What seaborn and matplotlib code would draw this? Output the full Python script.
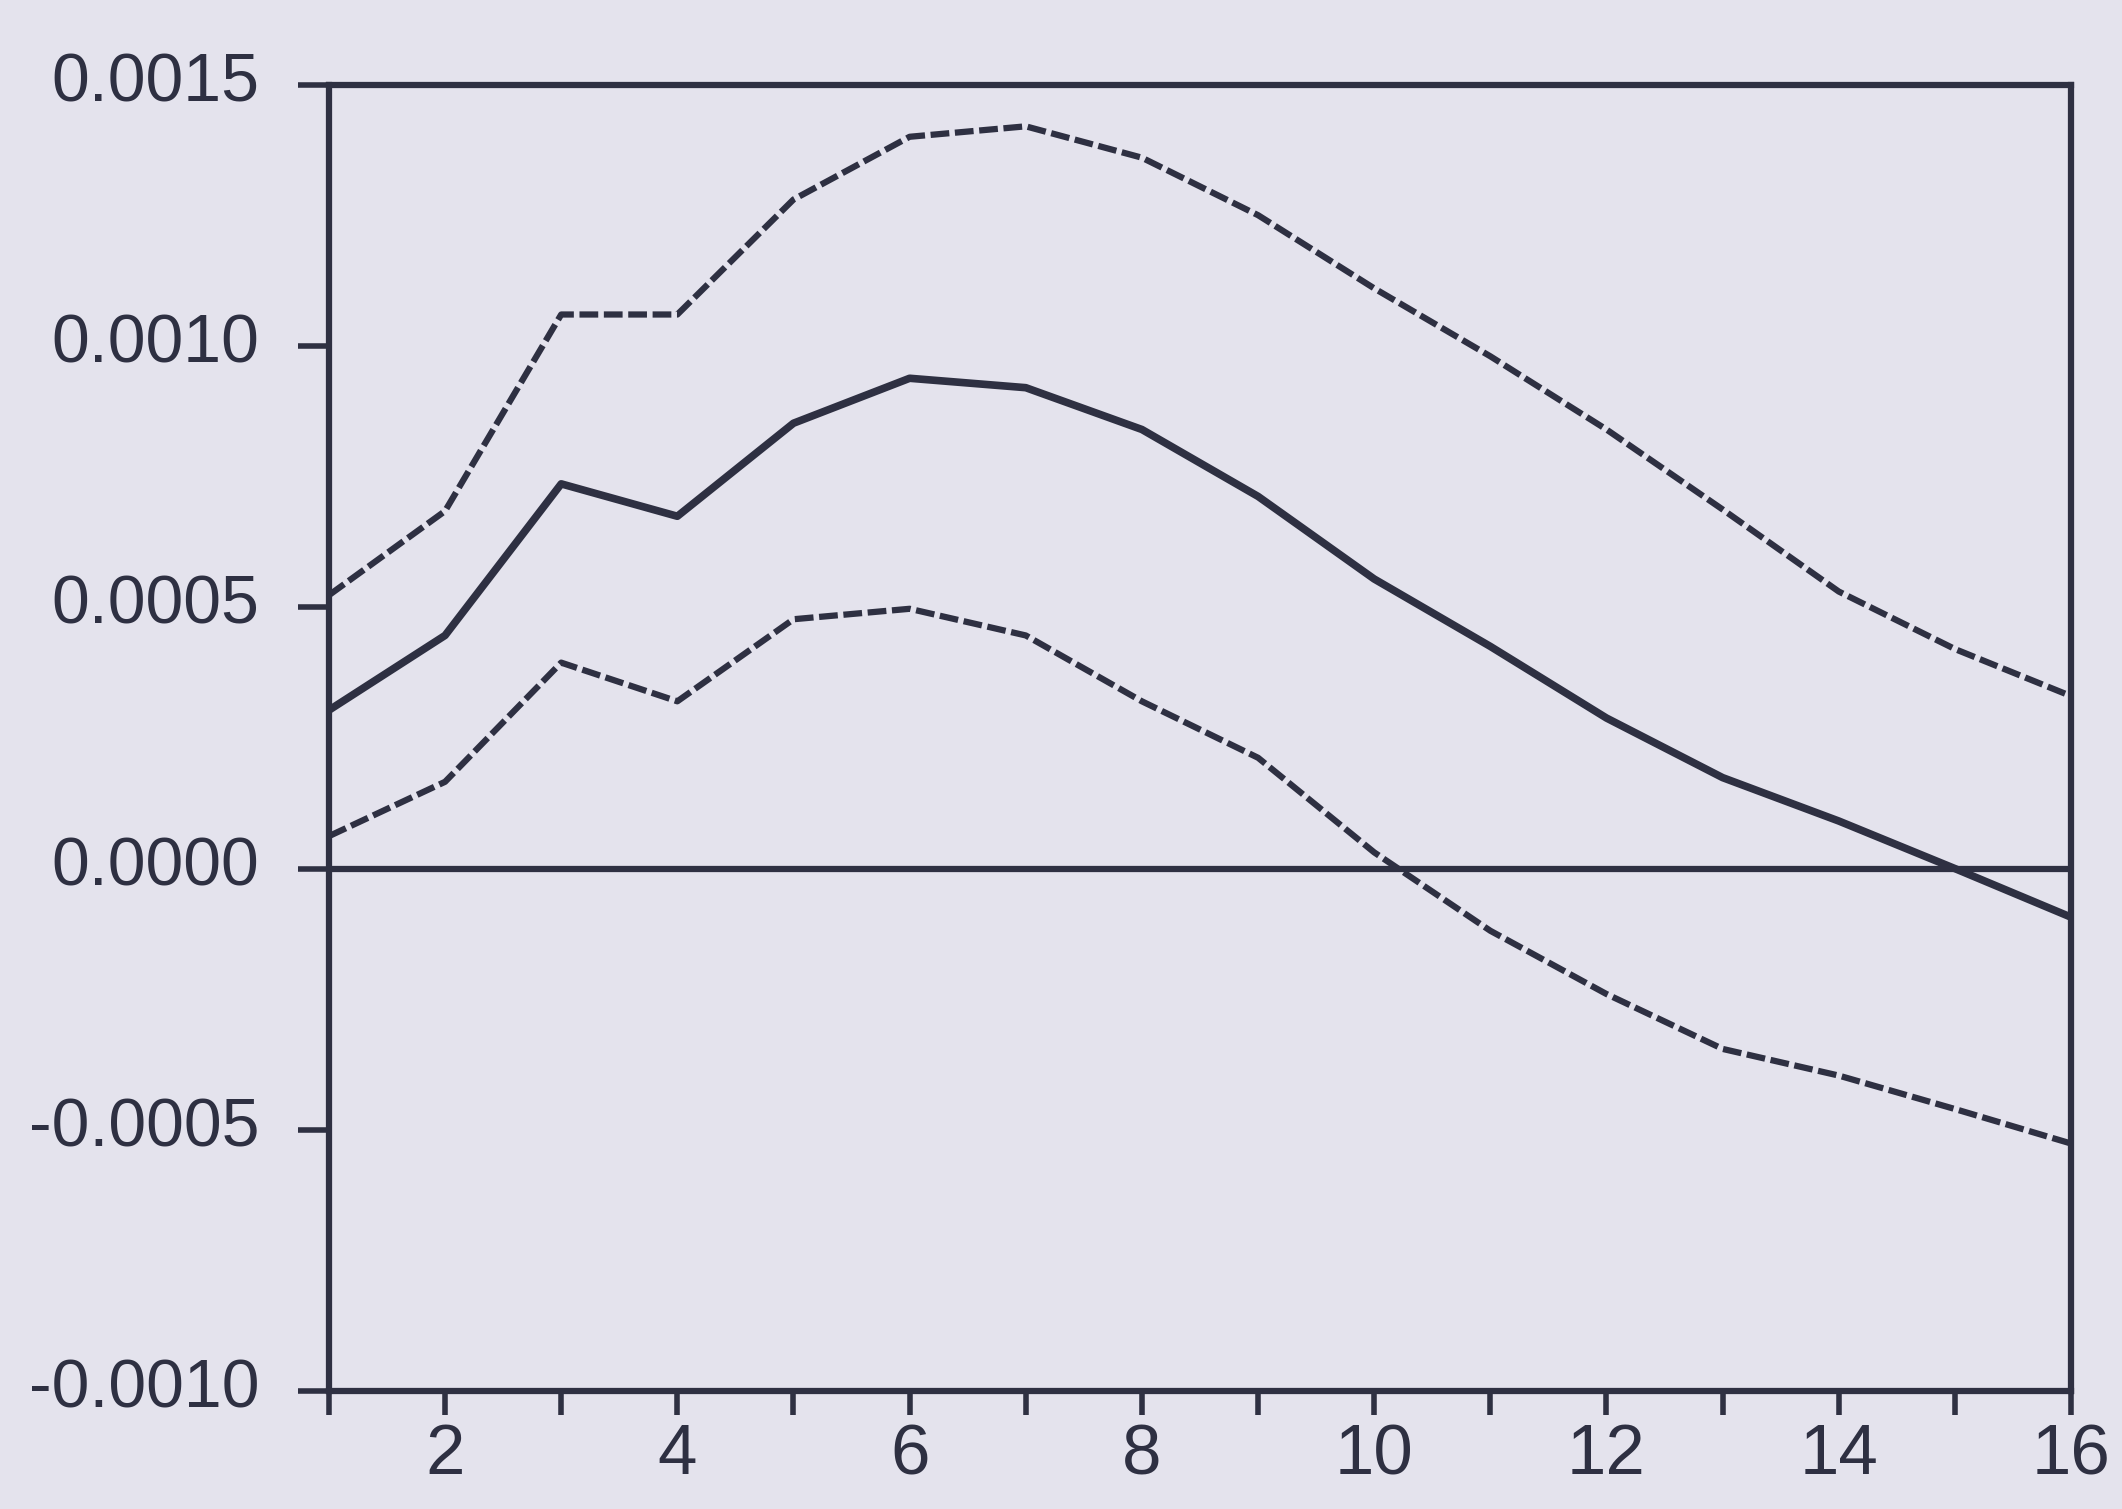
import numpy as np
import pandas as pd
import matplotlib
matplotlib.use("Agg")
import matplotlib.pyplot as plt
import matplotlib.transforms as mtransforms
import seaborn as sns

periods = list(range(1, 17))
response = [0.000303, 0.000446, 0.000736, 0.000674, 0.000852, 0.000938, 0.000920, 0.000840,
            0.000712, 0.000554, 0.000425, 0.000288, 0.000174, 0.000091, 0.000000, -0.000093]
upper = [0.000523, 0.000684, 0.001060, 0.001060, 0.001280, 0.001400, 0.001420, 0.001360,
         0.001250, 0.001110, 0.000980, 0.000840, 0.000687, 0.000530, 0.000420, 0.000330]
lower = [0.000062, 0.000166, 0.000394, 0.000320, 0.000477, 0.000497, 0.000446, 0.000320,
         0.000212, 0.000031, -0.000119, -0.000240, -0.000345, -0.000396, -0.000460, -0.000526]
ytick_vals = [-0.0010, -0.0005, 0.0000, 0.0005, 0.0010, 0.0015]
ytick_labels = ["-0.0010", "-0.0005", "0.0000", "0.0005", "0.0010", "0.0015"]
xtick_labels = ["2", "4", "6", "8", "10", "12", "14", "16"]

bg = "#e4e3ed"
ink = "#2e3042"

sns.set_theme(style="white")
plt.rcParams['font.family'] = ['Liberation Sans', 'DejaVu Sans']

fig = plt.figure(figsize=(21.22, 15.09), dpi=100, facecolor=bg)
ax = fig.add_axes([0.155, 0.078, 0.821, 0.866])
ax.set_facecolor(bg)

df = pd.DataFrame({"period": periods, "response": response, "upper": upper, "lower": lower})

sns.lineplot(data=df, x="period", y="upper", ax=ax, color=ink, lw=4.5,
             linestyle=(0, (3, 0.9)))
sns.lineplot(data=df, x="period", y="lower", ax=ax, color=ink, lw=4.5,
             linestyle=(0, (3, 0.9)))
sns.lineplot(data=df, x="period", y="response", ax=ax, color=ink, lw=5.5)
ax.axhline(0, color=ink, lw=4.5)

ax.set_xlim(1, 16)
ax.set_ylim(-0.0010, 0.0015)
ax.set_xticks(periods)
ax.set_xticklabels(["" if p % 2 else str(p) for p in periods])
ax.set_yticks(ytick_vals)
ax.set_yticklabels(ytick_labels)
ax.set_xlabel("")
ax.set_ylabel("")

for s in ax.spines.values():
    s.set_color(ink)
    s.set_linewidth(4.5)

ax.tick_params(axis="y", direction="out", length=22, width=4, color=ink,
               labelsize=49, labelcolor=ink, pad=28, left=True)
ax.tick_params(axis="x", direction="out", length=17, width=4, color=ink,
               labelsize=51, labelcolor=ink, pad=6, bottom=True)

offset = mtransforms.ScaledTranslation(0, 6 / 72, fig.dpi_scale_trans)
for lab in ax.get_yticklabels():
    lab.set_transform(lab.get_transform() + offset)

fig.savefig("out.png", dpi=100, facecolor=bg)
